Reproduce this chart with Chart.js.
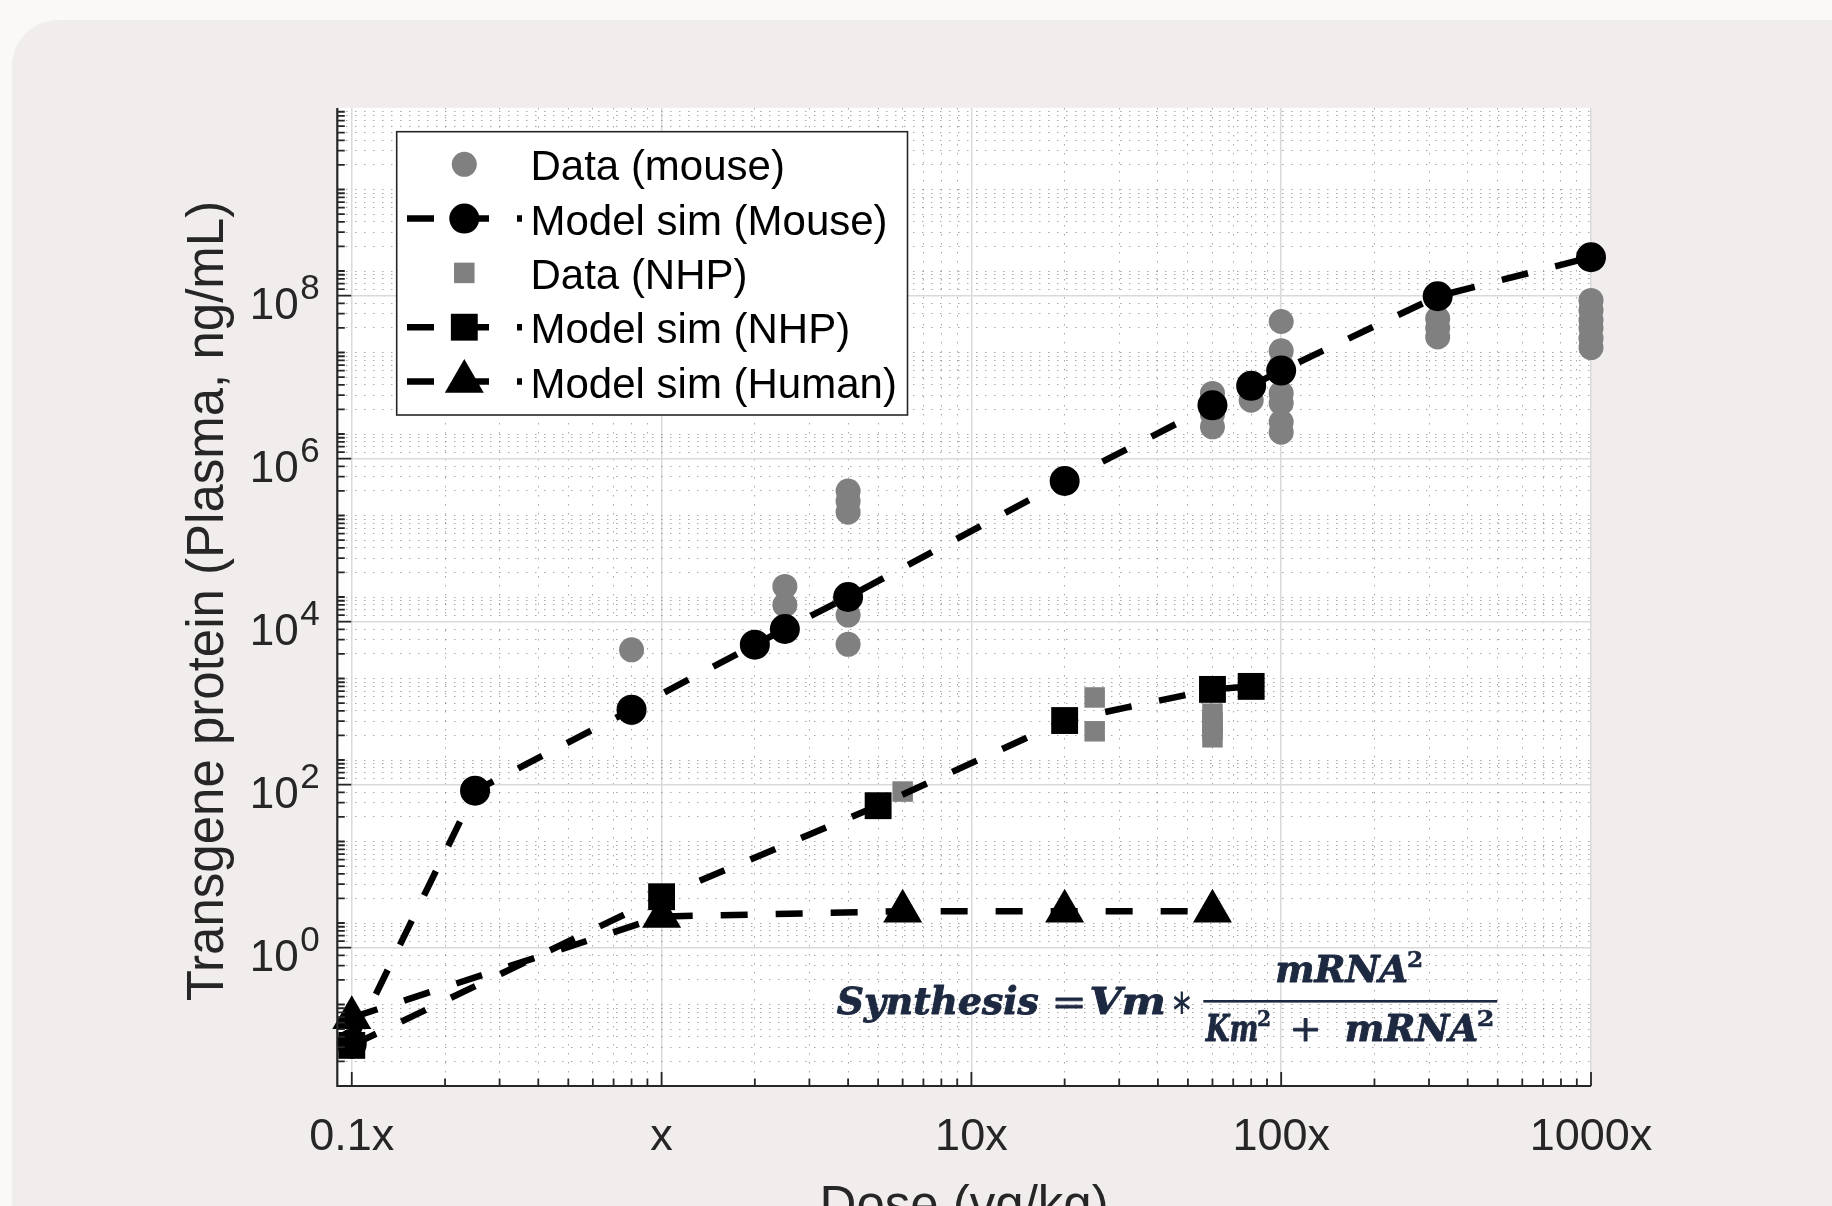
<!DOCTYPE html>
<html>
<head>
<meta charset="utf-8">
<title>Transgene protein vs dose</title>
<script src="https://cdn.jsdelivr.net/npm/chart.js@4.4.1/dist/chart.umd.min.js"></script>
<style>
  html, body { margin: 0; padding: 0; background: #fbf8f8; overflow: hidden; }
  canvas { display: block; }
</style>
</head>
<body>
<canvas id="doseChart" width="1832" height="1206"></canvas>
<script>
// values (dose in multiples of x, protein in ng/mL)
const mouseModelDose = [0.1, 0.25, 0.8, 2, 2.5, 4, 20, 60, 80, 100, 320, 1000];
const mouseModelProtein = [0.066, 84, 830, 5200, 8100, 2.0e4, 5.3e5, 4.5e6, 7.8e6, 1.2e7, 9.8e7, 2.95e8];

const mouseDataDose = [0.8, 0.8, 2.5, 2.5, 4, 4, 4, 4, 4, 60, 60, 60, 80,
  100, 100, 100, 100, 100, 100, 100, 320, 320, 320, 1000, 1000, 1000, 1000, 1000, 1000];
const mouseDataProtein = [4500, 760, 2.7e4, 1.6e4, 4.0e5, 3.0e5, 2.2e5, 1.2e4, 5250, 6.3e6, 3.5e6, 2.45e6, 5.2e6,
  4.8e7, 2.1e7, 1.4e7, 6.3e6, 4.8e6, 2.8e6, 2.1e6, 5.2e7, 4.0e7, 3.1e7, 8.7e7, 6.6e7, 5.0e7, 4.0e7, 3.0e7, 2.3e7];

const nhpModelDose = [0.1, 1, 5, 20, 60, 80];
const nhpModelProtein = [0.063, 4.2, 55, 610, 1470, 1600];

const nhpDataDose = [6, 25, 25, 60, 60, 60, 60];
const nhpDataProtein = [82, 1170, 450, 740, 590, 470, 380];

const humanModelDose = [0.1, 1, 6, 20, 60];
const humanModelProtein = [0.138, 2.4, 2.79, 2.79, 2.79];

const seriesLabels = ['Data (mouse)', 'Model sim (Mouse)', 'Data (NHP)', 'Model sim (NHP)', 'Model sim (Human)'];

// axes
const xMajorTicks = [0.1, 1, 10, 100, 1000];
const xTickLabels = ['0.1x', 'x', '10x', '100x', '1000x'];
const xMinorMantissas = [2, 3, 4, 5, 6, 7, 8, 9];
const yMajorTicks = [1, 1e2, 1e4, 1e6, 1e8];
const yTickExponents = ['0', '2', '4', '6', '8'];
const yMinorMantissas = [1, 1.2, 1.4, 1.6, 1.8, 2, 4, 6, 8];
const yDecades = [-2, -1, 0, 1, 2, 3, 4, 5, 6, 7, 8, 9, 10];
const X_MIN = 0.0898, X_MAX = 1000;
const Y_MIN = 0.02, Y_MAX = 2e10;

const TICK_COLOR = '#262626';
const FORMULA_COLOR = '#1d2940';

function near(a, b) { return Math.abs(Math.log10(a / b)) < 1e-6; }
function isXMajor(v) { return xMajorTicks.some(t => near(v, t)); }
function isYMajor(v) { return yMajorTicks.some(t => near(v, t)); }

const xMinorTicks = [];
xMajorTicks.slice(0, -1).forEach(dec => {
  xMinorMantissas.forEach(m => xMinorTicks.push(parseFloat((m * dec).toPrecision(6))));
});
const yMinorTicks = [];
yDecades.forEach(k => {
  yMinorMantissas.forEach(m => {
    const v = parseFloat((m * Math.pow(10, k)).toPrecision(6));
    if (v > Y_MIN * 1.0001 && v < Y_MAX && !isYMajor(v)) yMinorTicks.push(v);
  });
});
const xGridValues = xMajorTicks.concat(xMinorTicks).sort((a, b) => a - b);
const yGridValues = yMajorTicks.concat(yMinorTicks).sort((a, b) => a - b);

function points(xs, ys) { return xs.map((x, i) => ({ x: x, y: ys[i] })); }

const lineDash = [27, 28];

const datasets = [
  { label: seriesLabels[0], data: points(mouseDataDose, mouseDataProtein), showLine: false,
    pointStyle: 'circle', pointRadius: 12.5, pointBackgroundColor: '#808080', order: 4 },
  { label: seriesLabels[1], data: points(mouseModelDose, mouseModelProtein), showLine: true,
    pointStyle: 'circle', pointRadius: 15, pointBackgroundColor: '#000', order: 3 },
  { label: seriesLabels[2], data: points(nhpDataDose, nhpDataProtein), showLine: false,
    pointStyle: 'rect', pointRadius: 14.5, pointBackgroundColor: '#808080', order: 2 },
  { label: seriesLabels[3], data: points(nhpModelDose, nhpModelProtein), showLine: true,
    pointStyle: 'rect', pointRadius: 19, pointBackgroundColor: '#000', order: 1 },
  { label: seriesLabels[4], data: points(humanModelDose, humanModelProtein), showLine: true,
    pointStyle: 'triangle', pointRadius: 22.5, pointBackgroundColor: '#000', order: 0 }
].map(ds => Object.assign({
  borderColor: '#000', borderWidth: 6.5, borderDash: lineDash, borderCapStyle: 'butt',
  pointBorderWidth: 0, pointHoverRadius: ds.pointRadius, tension: 0, clip: false, fill: false
}, ds));

function drawMarker(ctx, style, r, x, y, color) {
  ctx.fillStyle = color;
  ctx.beginPath();
  if (style === 'circle') {
    ctx.arc(x, y, r, 0, Math.PI * 2);
  } else if (style === 'rect') {
    const s = Math.SQRT1_2 * r;
    ctx.rect(x - s, y - s, 2 * s, 2 * s);
  } else {
    ctx.moveTo(x, y - r);
    ctx.lineTo(x + r * Math.sin(2 * Math.PI / 3), y - r * Math.cos(2 * Math.PI / 3));
    ctx.lineTo(x + r * Math.sin(4 * Math.PI / 3), y - r * Math.cos(4 * Math.PI / 3));
    ctx.closePath();
  }
  ctx.fill();
}

// grey card behind the white plot area
const backdropPlugin = {
  id: 'backdrop',
  beforeDraw(chart) {
    const { ctx, chartArea: a } = chart;
    const x0 = 12, y0 = 20, r = 46, x1 = chart.width + 80, y1 = chart.height + 80;
    ctx.save();
    ctx.fillStyle = '#fbf8f8';
    ctx.fillRect(0, 0, chart.width, chart.height);
    ctx.fillStyle = '#f0edec';
    ctx.beginPath();
    ctx.moveTo(x0 + r, y0);
    ctx.lineTo(x1, y0);
    ctx.lineTo(x1, y1);
    ctx.lineTo(x0, y1);
    ctx.lineTo(x0, y0 + r);
    ctx.arcTo(x0, y0, x0 + r, y0, r);
    ctx.closePath();
    ctx.fill();
    ctx.fillStyle = '#fff';
    ctx.fillRect(a.left, a.top, a.right - a.left, a.bottom - a.top);
    ctx.restore();
  }
};

// matlab-like axes: inner ticks, axis lines, labels with exponents
const axesPlugin = {
  id: 'matlabAxes',
  afterDatasetsDraw(chart) {
    const { ctx, chartArea: a, scales: { x, y } } = chart;
    ctx.save();
    ctx.strokeStyle = TICK_COLOR;
    ctx.fillStyle = TICK_COLOR;
    ctx.lineWidth = 1.8;
    ctx.beginPath();
    xGridValues.forEach(v => {
      const px = x.getPixelForValue(v);
      const len = isXMajor(v) ? 14 : 7.5;
      ctx.moveTo(px, a.bottom);
      ctx.lineTo(px, a.bottom - len);
    });
    yGridValues.forEach(v => {
      const py = y.getPixelForValue(v);
      const len = isYMajor(v) ? 14 : 7.5;
      ctx.moveTo(a.left, py);
      ctx.lineTo(a.left + len, py);
    });
    ctx.stroke();

    ctx.lineWidth = 2.2;
    ctx.beginPath();
    ctx.moveTo(a.left, a.top);
    ctx.lineTo(a.left, a.bottom);
    ctx.lineTo(a.right, a.bottom);
    ctx.stroke();

    ctx.textBaseline = 'alphabetic';
    ctx.font = '45px "Liberation Sans", Arial, sans-serif';
    ctx.textAlign = 'center';
    xMajorTicks.forEach((v, i) => {
      ctx.fillText(xTickLabels[i], x.getPixelForValue(v), a.bottom + 64);
    });

    yMajorTicks.forEach((v, i) => {
      const py = y.getPixelForValue(v);
      ctx.font = '44px "Liberation Sans", Arial, sans-serif';
      ctx.textAlign = 'right';
      ctx.fillText('10', a.left - 38.7, py + 23.3);
      ctx.font = '35px "Liberation Sans", Arial, sans-serif';
      ctx.textAlign = 'left';
      ctx.fillText(yTickExponents[i], a.left - 37.1, py + 3.3);
    });

    ctx.font = '51px "Liberation Sans", Arial, sans-serif';
    ctx.textAlign = 'center';
    ctx.fillText('Dose (vg/kg)', (a.left + a.right) / 2, a.bottom + 136);
    ctx.translate(223.3, 601);
    ctx.rotate(-Math.PI / 2);
    ctx.fillText('Transgene protein (Plasma, ng/mL)', 0, 0);
    ctx.restore();
  }
};

// legend box drawn inside the plot, upper left
const legendPlugin = {
  id: 'boxLegend',
  afterDraw(chart) {
    const ctx = chart.ctx;
    const box = { left: 396.7, top: 131.7, right: 907.5, bottom: 415 };
    const rowY0 = 164.3, rowStep = 54.3;
    const lineX0 = 407, lineX1 = 522, markerX = 464.3, textX = 530.5;
    ctx.save();
    ctx.fillStyle = '#fff';
    ctx.fillRect(box.left, box.top, box.right - box.left, box.bottom - box.top);
    ctx.strokeStyle = TICK_COLOR;
    ctx.lineWidth = 1.6;
    ctx.strokeRect(box.left, box.top, box.right - box.left, box.bottom - box.top);
    chart.data.datasets.forEach((ds, i) => {
      const yy = rowY0 + i * rowStep;
      if (ds.showLine) {
        ctx.save();
        ctx.strokeStyle = ds.borderColor;
        ctx.lineWidth = ds.borderWidth;
        ctx.lineCap = 'butt';
        ctx.setLineDash(ds.borderDash);
        ctx.beginPath();
        ctx.moveTo(lineX0, yy);
        ctx.lineTo(lineX1, yy);
        ctx.stroke();
        ctx.restore();
      }
      drawMarker(ctx, ds.pointStyle, ds.pointRadius, markerX, yy, ds.pointBackgroundColor);
      ctx.fillStyle = '#000';
      ctx.font = '42px "Liberation Sans", Arial, sans-serif';
      ctx.textAlign = 'left';
      ctx.textBaseline = 'alphabetic';
      ctx.fillText(ds.label, textX, yy + 16);
    });
    ctx.restore();
  }
};

// text piece fitted between two ink edges, optionally thickened
function fitText(ctx, str, left, right, base, font, thicken) {
  ctx.font = font;
  const m = ctx.measureText(str);
  const w = m.actualBoundingBoxLeft + m.actualBoundingBoxRight;
  const sx = w > 0 ? (right - left) / w : 1;
  ctx.save();
  ctx.translate(left, base);
  ctx.scale(sx, 1);
  ctx.textAlign = 'left';
  ctx.textBaseline = 'alphabetic';
  ctx.fillText(str, m.actualBoundingBoxLeft, 0);
  if (thicken) {
    ctx.lineWidth = thicken;
    ctx.lineJoin = 'round';
    ctx.strokeText(str, m.actualBoundingBoxLeft, 0);
  }
  ctx.restore();
}

const formulaPlugin = {
  id: 'formula',
  afterDraw(chart) {
    const ctx = chart.ctx;
    const big = 'bold italic 38px "DejaVu Serif", serif';
    const sup = 'bold 22px "DejaVu Serif", serif';
    const op = '36px "DejaVu Serif", serif';
    ctx.save();
    ctx.fillStyle = FORMULA_COLOR;
    ctx.strokeStyle = FORMULA_COLOR;
    fitText(ctx, 'Synthesis', 836.7, 1038.3, 1014, big, 1);
    fitText(ctx, '=', 1055, 1083, 1014, op, 0.8);
    fitText(ctx, 'Vm', 1091.7, 1163.3, 1014, big, 1);
    fitText(ctx, '\u2217', 1173, 1190, 1014, '36px "DejaVu Sans", sans-serif');
    ctx.fillRect(1203.3, 1000, 294, 2.6);
    fitText(ctx, 'mRNA', 1277.3, 1406.7, 981.7, big, 1);
    fitText(ctx, '2', 1408, 1421.7, 966.7, sup, 0.5);
    fitText(ctx, 'Km', 1205, 1256.7, 1041, big, 1);
    fitText(ctx, '2', 1258, 1270, 1026, sup, 0.5);
    fitText(ctx, '+', 1292.7, 1318.3, 1041, op, 0.8);
    fitText(ctx, 'mRNA', 1346.7, 1476.7, 1041, big, 1);
    fitText(ctx, '2', 1478, 1493, 1026, sup, 0.5);
    ctx.restore();
  }
};

function gridColor(isMajor) {
  return c => (c.tick && isMajor(c.tick.value)) ? '#dadada' : 'rgba(110,110,110,0.6)';
}
function gridDash(isMajor) {
  return c => (c.tick && isMajor(c.tick.value)) ? [] : [1.5, 7.5];
}

new Chart(document.getElementById('doseChart'), {
  type: 'line',
  data: { datasets: datasets },
  options: {
    responsive: false,
    animation: false,
    devicePixelRatio: 1,
    events: [],
    layout: { padding: { left: 337.3, right: 241, top: 108, bottom: 120 } },
    plugins: { legend: { display: false }, tooltip: { enabled: false } },
    scales: {
      x: {
        type: 'logarithmic', position: 'bottom', bounds: 'data',
        min: X_MIN, max: X_MAX,
        afterBuildTicks: s => { s.ticks = xGridValues.map(v => ({ value: v })); },
        afterFit: s => { s.height = 0; },
        ticks: { display: false },
        border: { display: false, dash: gridDash(isXMajor) },
        grid: { drawTicks: false, color: gridColor(isXMajor), lineWidth: c => (c.tick && isXMajor(c.tick.value)) ? 1.5 : 1 }
      },
      y: {
        type: 'logarithmic', position: 'left', bounds: 'data',
        min: Y_MIN, max: Y_MAX,
        afterBuildTicks: s => { s.ticks = yGridValues.map(v => ({ value: v })); },
        afterFit: s => { s.width = 0; },
        ticks: { display: false },
        border: { display: false, dash: gridDash(isYMajor) },
        grid: { drawTicks: false, color: gridColor(isYMajor), lineWidth: c => (c.tick && isYMajor(c.tick.value)) ? 1.5 : 1 }
      }
    }
  },
  plugins: [backdropPlugin, axesPlugin, legendPlugin, formulaPlugin]
});
</script>
</body>
</html>
